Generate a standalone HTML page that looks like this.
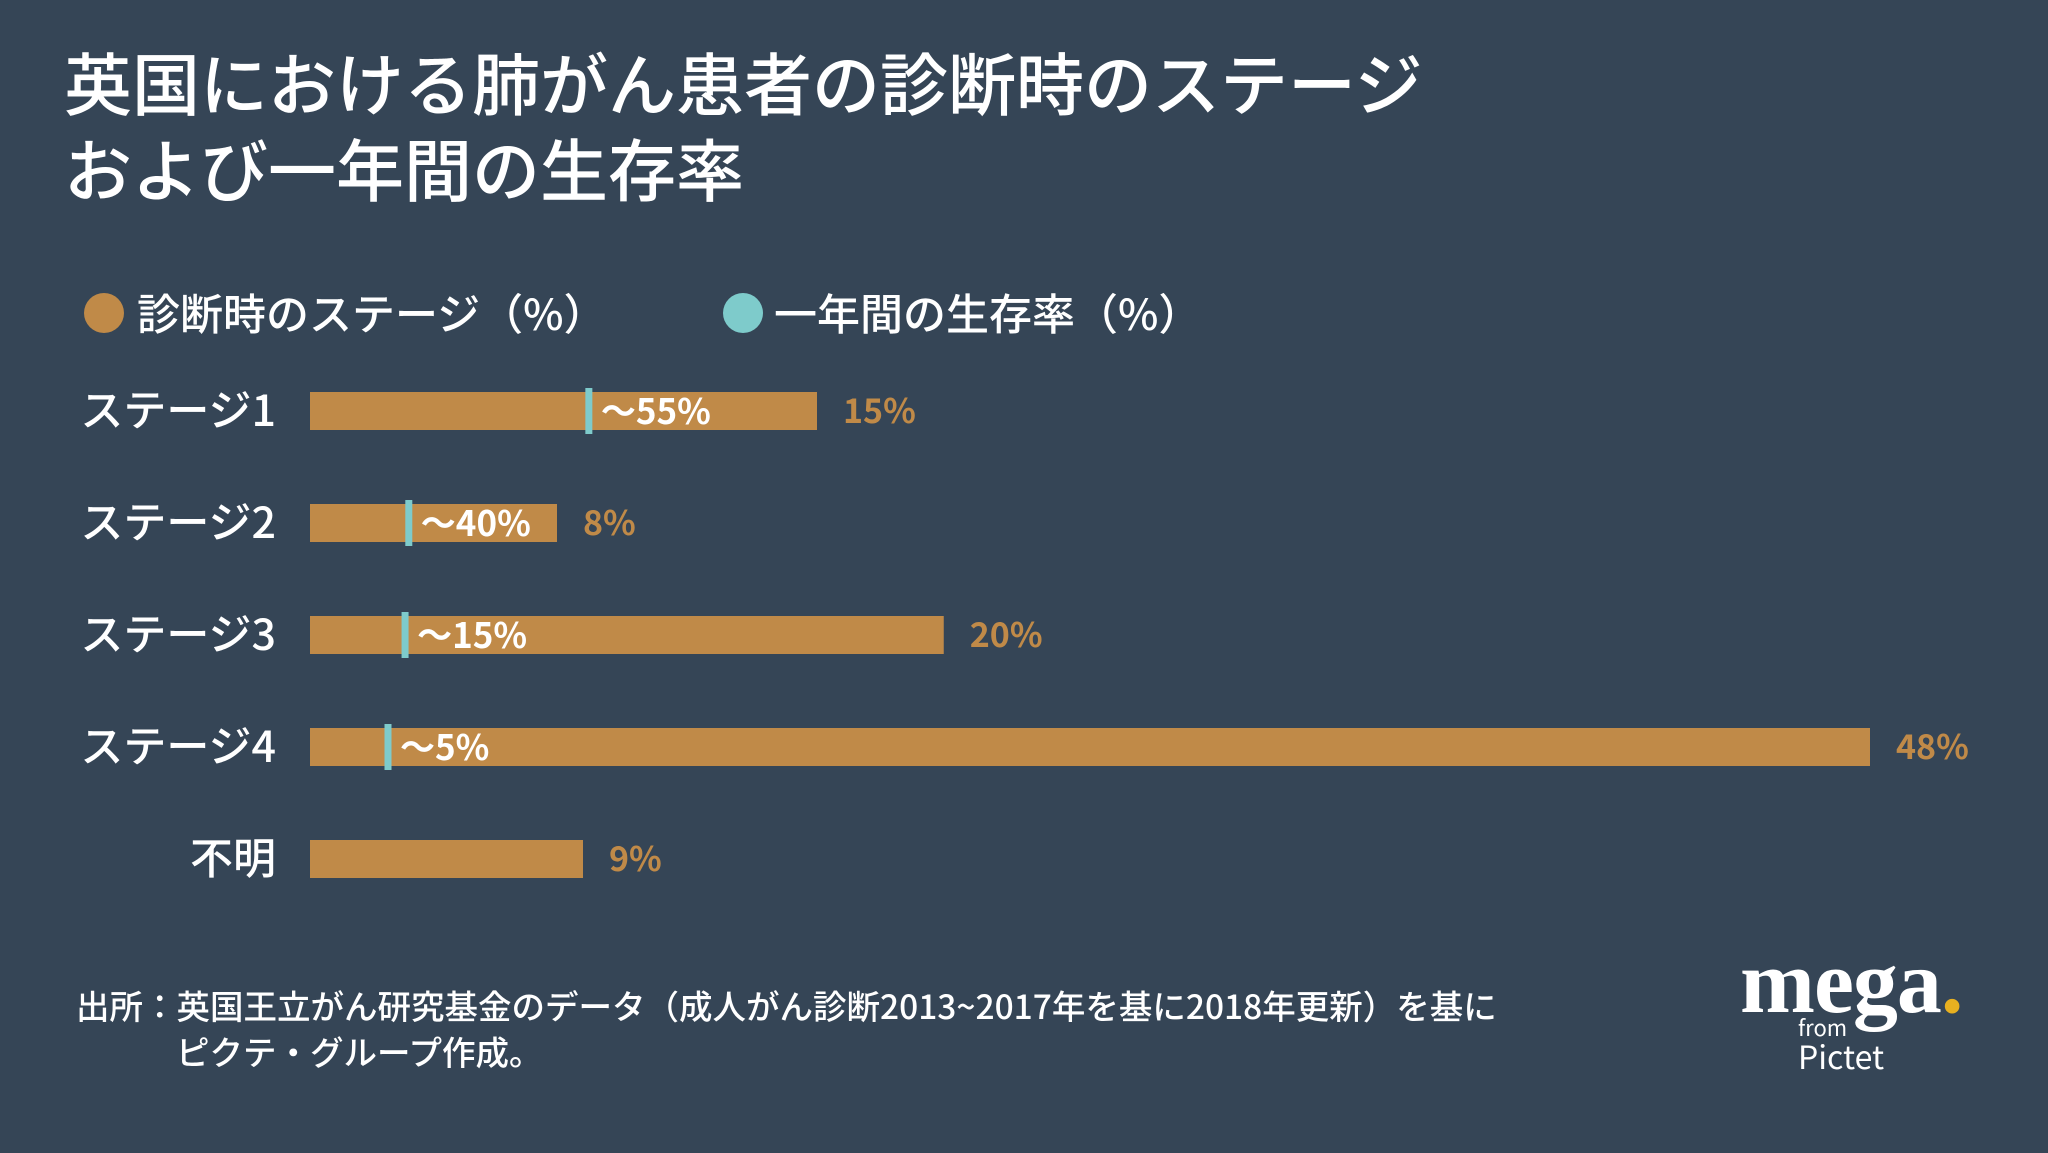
<!DOCTYPE html>
<html><head><meta charset="utf-8"><style>
body{margin:0;width:2048px;height:1153px;background:#354556;overflow:hidden;font-family:"Noto Sans CJK JP","Liberation Sans",sans-serif;color:#fff}
.t{position:absolute;white-space:nowrap}
</style></head><body>
<div class="t" style="left:64px;top:38px;font-size:68px;line-height:86px;font-weight:500">英国における肺がん患者の診断時のステージ<br>および一年間の生存率</div>
<div>
<div class="t" style="left:84px;top:293px;width:40px;height:40px;border-radius:50%;background:#C08A48"></div>
<div class="t" style="left:137px;top:282px;font-size:43px;line-height:60px;font-weight:500">診断時のステージ（%）</div>
<div class="t" style="left:723px;top:293px;width:40px;height:40px;border-radius:50%;background:#7ECBCB"></div>
<div class="t" style="left:774px;top:282px;font-size:43px;line-height:60px;font-weight:500">一年間の生存率（%）</div>
</div>
<svg id="chart" width="2048" height="1153" style="position:absolute;left:0;top:0"></svg>
<div class="t" style="left:76px;top:982px;font-size:33.5px;line-height:46px;font-weight:500">出所：英国王立がん研究基金のデータ（成人がん診断2013~2017年を基に2018年更新）を基に<br><span style="padding-left:100px">ピクテ・グループ作成。</span></div>
<div>
<div class="t" style="left:1740px;top:936px;font-family:'Liberation Serif',serif;font-weight:bold;font-size:90px;line-height:94px;letter-spacing:-1px">mega<span style="color:#E8B020">.</span></div>
<div class="t" style="left:1798px;top:1012px;font-size:22px;line-height:30px">from</div>
<div class="t" style="left:1798px;top:1034px;font-size:32px;line-height:44px">Pictet</div>
</div>
<script>
const categories=["ステージ1","ステージ2","ステージ3","ステージ4","不明"];
const stageValues=[15.6,7.6,19.5,48,8.4];
const stageLabels=["15%","8%","20%","48%","9%"];
const survivalValues=[55,40,15,5,null];
const survivalLabels=["〜55%","〜40%","〜15%","〜5%",""];
const svg=document.getElementById('chart');const NS='http://www.w3.org/2000/svg';
const x0=310,pxPer=32.5,y0=411,step=112,bh=38;
const xs=v=>v*pxPer;const ys=i=>y0+i*step;
function mk(t,a){const e=document.createElementNS(NS,t);for(const k in a)e.setAttribute(k,a[k]);svg.appendChild(e);return e;}
categories.forEach((c,i)=>{
 const y=ys(i),w=xs(stageValues[i]);
 const l=mk('text',{x:276,y:y+15,'text-anchor':'end','font-size':43,'font-weight':500,fill:'#fff'});l.textContent=c;
 
 
 const b=mk('rect',{x:x0,y:y-bh/2,width:w,height:bh,fill:'#C08A48'});
 
 
 const v=mk('text',{x:x0+w+26,y:y+12,'font-size':34,'font-weight':'bold',fill:'#C08A48'});v.textContent=stageLabels[i];
 
 
 if(survivalValues[i]!=null){
  const mx=x0+w*survivalValues[i]/100;
  const m=mk('rect',{x:mx-3.5,y:y-23,width:7,height:46,fill:'#7ECBCB'});
  
  
  const s=mk('text',{x:mx+12,y:y+13,'font-size':35,'font-weight':'bold',fill:'#fff'});s.textContent=survivalLabels[i];
  
  
 }
});
</script>
</body></html>
